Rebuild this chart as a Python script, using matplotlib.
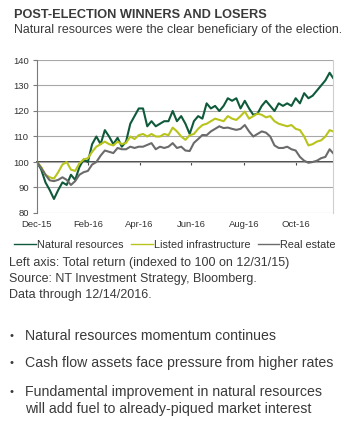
import matplotlib
matplotlib.use("Agg")
import matplotlib.pyplot as plt
import pandas as pd

plt.rcParams["font.family"] = ["Liberation Sans", "DejaVu Sans"]

# Dates: every 5 days from 12/31/15, last point 12/14/16
dates = list(pd.date_range("2015-12-31", periods=70, freq="5D")) + [pd.Timestamp("2016-12-14")]

natural_resources = [
    100, 97, 92, 89, 85.5, 89, 92, 91, 95, 93,
    98, 101, 100, 107, 110, 107, 112.5, 110, 107, 109.5,
    106, 108, 115, 118, 121, 121, 114, 116, 114, 115,
    116, 116, 120, 116, 118, 115, 111, 116, 118, 117,
    123, 121, 122, 120, 122, 125, 124, 125, 121, 124,
    121, 118.5, 119, 122, 124, 122, 120, 123, 122, 123,
    122, 125, 123, 127, 125, 126, 128, 130, 132, 135,
    133,
]
listed_infrastructure = [
    100, 98, 95, 94, 93.5, 96, 99, 100, 97, 96.5,
    99.5, 101, 101.5, 104, 106, 107, 108, 107, 106.5, 108,
    107, 107.5, 110, 109, 110.5, 111, 110, 111, 110, 110,
    111, 110.5, 113.5, 112, 110, 108.7, 110.5, 111, 113, 114.5,
    115, 116, 117, 116.5, 116, 118, 117, 116.5, 118, 119.8,
    117, 118, 119, 118.5, 117.5, 118, 116, 115, 114.5, 114,
    114.5, 113, 112.5, 110, 106.5, 107, 108, 108.5, 110, 112.5,
    112,
]
real_estate = [
    100, 97.6, 95, 92.8, 92.5, 93, 94, 93, 91, 92.5,
    95, 96, 96.5, 99, 100, 102.5, 104.5, 104, 103.5, 105.5,
    105, 105, 106, 105.5, 106, 106, 106.7, 107.4, 105, 106,
    105.5, 106, 107.4, 105.5, 106, 104.5, 104.3, 107.5, 109, 110.6,
    110.5, 112, 113, 114, 113.3, 113.5, 113, 112.6, 113, 114.5,
    112, 110, 111, 112, 111.5, 110, 106.5, 105.5, 105.5, 106,
    105, 104.5, 102, 100.5, 99.7, 100, 100.5, 101.5, 102, 105,
    103.5,
]

tick_dates = ["2015-12-31", "2016-02-29", "2016-04-30", "2016-06-30", "2016-08-31", "2016-10-31"]
tick_labels = ["Dec-15", "Feb-16", "Apr-16", "Jun-16", "Aug-16", "Oct-16"]

series = [
    ("Natural resources", natural_resources, "#0f5a3a"),
    ("Listed infrastructure", listed_infrastructure, "#b8c41c"),
    ("Real estate", real_estate, "#6b6b6b"),
]

text_col = "#3a3a3a"

fig = plt.figure(figsize=(3.5, 4.23), dpi=100)
fig.patch.set_facecolor("white")

fig.text(14 / 350, 1 - 15 / 423, "POST-ELECTION WINNERS AND LOSERS", fontsize=9.2,
         fontweight="bold", color=text_col, va="center")
fig.text(14 / 350, 1 - 30 / 423, "Natural resources were the clear beneficiary of the election.",
         fontsize=8.9, color=text_col, va="center")

ax = fig.add_axes([37 / 350, 1 - 213 / 423, 296 / 350, 153 / 423])
for name, vals, col in series:
    ax.plot(pd.to_datetime(dates), vals, color=col, lw=1.5, label=name)

ax.set_ylim(80, 140)
ax.set_yticks(range(80, 141, 10))
ax.set_xlim(pd.Timestamp("2015-12-31"), pd.Timestamp("2016-12-14"))
ax.set_xticks(pd.to_datetime(tick_dates))
ax.set_xticklabels(tick_labels)
ax.tick_params(axis="x", length=0, pad=5, labelsize=6.8, colors="#333333")
ax.tick_params(axis="y", length=3, width=0.8, color="#7a7a7a", pad=3, labelsize=6.8,
               labelcolor="#333333")
ax.grid(axis="y", color="#a8a8a8", lw=0.8)
ax.set_axisbelow(True)
for s in ["top", "bottom"]:
    ax.spines[s].set_visible(False)
ax.spines["right"].set_color("#d0d0d0")
ax.spines["left"].set_color("#7a7a7a")

# horizontal axis crossing at 100
sec = ax.secondary_xaxis((100 - 80) / 60)
sec.set_xticks(pd.to_datetime(tick_dates))
sec.set_xticklabels([""] * len(tick_dates))
sec.tick_params(length=2.5, width=0.8, color="#4a4a4a", direction="out")
sec.spines["bottom"].set_color("#4a4a4a")
sec.spines["bottom"].set_linewidth(1.4)

leg = fig.legend(loc="center", bbox_to_anchor=(175 / 350, 1 - 245 / 423), ncol=3, frameon=False,
                 fontsize=7.8, handlelength=2.0, handletextpad=0.1, columnspacing=0.7,
                 borderpad=0, borderaxespad=0)
for t in leg.get_texts():
    t.set_color("#333333")
for h in leg.get_lines():
    h.set_linewidth(1.0)

notes = ["Left axis: Total return (indexed to 100 on 12/31/15)",
         "Source: NT Investment Strategy, Bloomberg.",
         "Data through 12/14/2016."]
for i, line in enumerate(notes):
    fig.text(9 / 350, 1 - (263 + 16 * i) / 423, line, fontsize=9.0, color=text_col, va="center")

bullets = [(336, "Natural resources momentum continues"),
           (363, "Cash flow assets face pressure from higher rates"),
           (392, "Fundamental improvement in natural resources")]
for y, txt in bullets:
    fig.text(10 / 350, 1 - (y - 0.5) / 423, "\u2022", fontsize=8, color=text_col, va="center")
    fig.text(25 / 350, 1 - y / 423, txt, fontsize=10.2, color=text_col, va="center")
fig.text(25 / 350, 1 - 409 / 423, "will add fuel to already-piqued market interest",
         fontsize=10.2, color=text_col, va="center")

fig.savefig("out.png", dpi=100)
